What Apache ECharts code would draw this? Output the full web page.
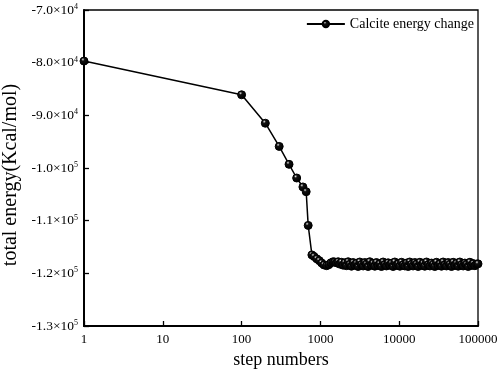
<!doctype html>
<html>
	<head>
		<meta charset="utf-8">
		<title>Calcite energy change</title>
		<script src="https://cdn.jsdelivr.net/npm/echarts@6/dist/echarts.min.js"></script>
		<style>
			html, body {
				margin: 0px;
				padding: 0px;
				background: #fff;
			}
			#main {
				width: 498px;
				height: 369px;
			}
		</style>
	</head>

	<body>
		<div id="main"></div>
	</body>

	<script type="text/javascript">
		//步数（对数坐标）
		var steps = [1, 100, 200, 300, 400, 500, 600, 660, 700, 780,
			830, 900, 970, 1040, 1110, 1200,
			1280, 1360, 1450, 1520, 1600, 1680, 1760, 1850, 1940, 2040,
			2140, 2250, 2360, 2480, 2600, 2730, 2870, 3010, 3160, 3320,
			3490, 3660, 3840, 4030, 4230, 4440, 4660, 4900, 5140, 5400,
			5670, 5950, 6250, 6560, 6890, 7230, 7600, 7980, 8370, 8790,
			9230, 9700, 10200, 10700, 11200, 11800, 12400, 13000, 13600, 14300,
			15000, 15800, 16600, 17400, 18300, 19200, 20100, 21100, 22200, 23300,
			24500, 25700, 27000, 28300, 29700, 31200, 32800, 34400, 36100, 37900,
			39800, 41800, 43900, 46100, 48400, 50800, 53400, 56000, 58800, 61800,
			64900, 68100, 71500, 75100, 78900, 82800, 87000, 91300, 95900, 100000];
		//总能量 Kcal/mol
		var energy = [-79700, -86100, -91500, -95900, -99300, -101900, -103600, -104500, -110900, -116500,
			-116800, -117250, -117600, -118050, -118400, -118550,
			-118350, -118000, -117800, -117850, -118000, -117800, -118250, -117900, -118450, -118000,
			-118550, -117800, -118300, -118650, -117950, -118450, -118100, -118700, -117850, -118350,
			-118600, -117950, -118250, -118700, -117800, -118450, -118100, -118650, -117950, -118500,
			-118200, -118700, -117850, -118350, -118600, -118000, -118450, -118100, -118700, -117850,
			-118500, -118200, -118650, -117900, -118400, -118600, -118050, -118700, -117850, -118300,
			-118600, -117950, -118250, -118700, -117900, -118500, -118100, -118650, -117850, -118400,
			-118600, -118050, -118300, -118700, -117900, -118500, -118200, -118650, -117850, -118400,
			-118600, -117950, -118300, -118700, -117900, -118500, -118100, -118650, -117850, -118400,
			-118600, -118050, -118300, -118700, -117900, -118500, -118150, -118550, -118250, -118200];
		//x轴刻度
		var xTicks = [1, 10, 100, 1000, 10000, 100000];
		//y轴刻度
		var yTicks = [-130000, -120000, -110000, -100000, -90000, -80000, -70000];

		var seriesName = 'Calcite energy change';
		var font = "'Liberation Serif', 'Times New Roman', serif";

		var byId = function(id) {
			return document.getElementById(id);
		};

		//小球样式（黑色球体带高光）
		var ball = new echarts.graphic.RadialGradient(0.38, 0.32, 0.6, [{
			offset: 0,
			color: '#f4f4f4'
		}, {
			offset: 0.12,
			color: '#888888'
		}, {
			offset: 0.3,
			color: '#111111'
		}, {
			offset: 1,
			color: '#000000'
		}]);

		var chart = echarts.init(byId('main'));

		var option = {
			animation: false,
			grid: {
				left: 84,
				right: 20,
				top: 10,
				bottom: 43,
				show: true,
				borderColor: '#000',
				borderWidth: 1.3,
				outerBoundsMode: 'none'
			},
			legend: {
				data: [seriesName],
				right: 24,
				top: 17,
				padding: 0,
				itemWidth: 38,
				itemHeight: 8,
				textStyle: {
					fontFamily: font,
					fontSize: 14,
					color: '#000'
				}
			},
			xAxis: {
				type: 'log',
				logBase: 10,
				min: xTicks[0],
				max: xTicks[xTicks.length - 1],
				name: 'step numbers',
				nameLocation: 'middle',
				nameGap: 23,
				nameTextStyle: {
					fontFamily: font,
					fontSize: 18,
					color: '#000'
				},
				axisLine: {
					lineStyle: {
						color: '#000',
						width: 2
					}
				},
				axisTick: {
					inside: true,
					length: 5,
					lineStyle: {
						width: 1.3
					}
				},
				minorTick: {
					show: false
				},
				splitLine: {
					show: false
				},
				axisLabel: {
					margin: 7,
					fontFamily: font,
					fontSize: 13,
					color: '#000',
					formatter: function(v) {
						return String(Math.round(v));
					}
				}
			},
			yAxis: {
				type: 'value',
				min: yTicks[0],
				max: yTicks[yTicks.length - 1],
				interval: 10000,
				name: 'total energy(Kcal/mol)',
				nameLocation: 'middle',
				nameGap: 63,
				nameTextStyle: {
					fontFamily: font,
					fontSize: 20,
					color: '#000',
					padding: [0, 14, 0, 0]
				},
				axisLine: {
					lineStyle: {
						color: '#000',
						width: 2
					}
				},
				axisTick: {
					inside: true,
					length: 5,
					lineStyle: {
						width: 1.3
					}
				},
				splitLine: {
					show: false
				},
				axisLabel: {
					margin: 6,
					color: '#000',
					formatter: function(v) {
						var e = Math.abs(v) >= 100000 ? 5 : 4;
						var m = (v / Math.pow(10, e)).toFixed(1);
						return '{a|' + m + '×10}{b|' + e + '}';
					},
					rich: {
						a: {
							fontFamily: font,
							fontSize: 13.5,
							color: '#000'
						},
						b: {
							fontFamily: font,
							fontSize: 8,
							lineHeight: 9,
							verticalAlign: 'top',
							color: '#000'
						}
					}
				}
			},
			series: [{
				name: seriesName,
				type: 'line',
				data: steps.map(function(s, i) {
					return [s, energy[i]];
				}),
				symbol: 'circle',
				symbolSize: 8,
				showAllSymbol: true,
				itemStyle: {
					color: ball,
					borderColor: '#000',
					borderWidth: 1
				},
				lineStyle: {
					color: '#000',
					width: 1.5
				}
			}]
		};

		chart.setOption(option);
	</script>

</html>
